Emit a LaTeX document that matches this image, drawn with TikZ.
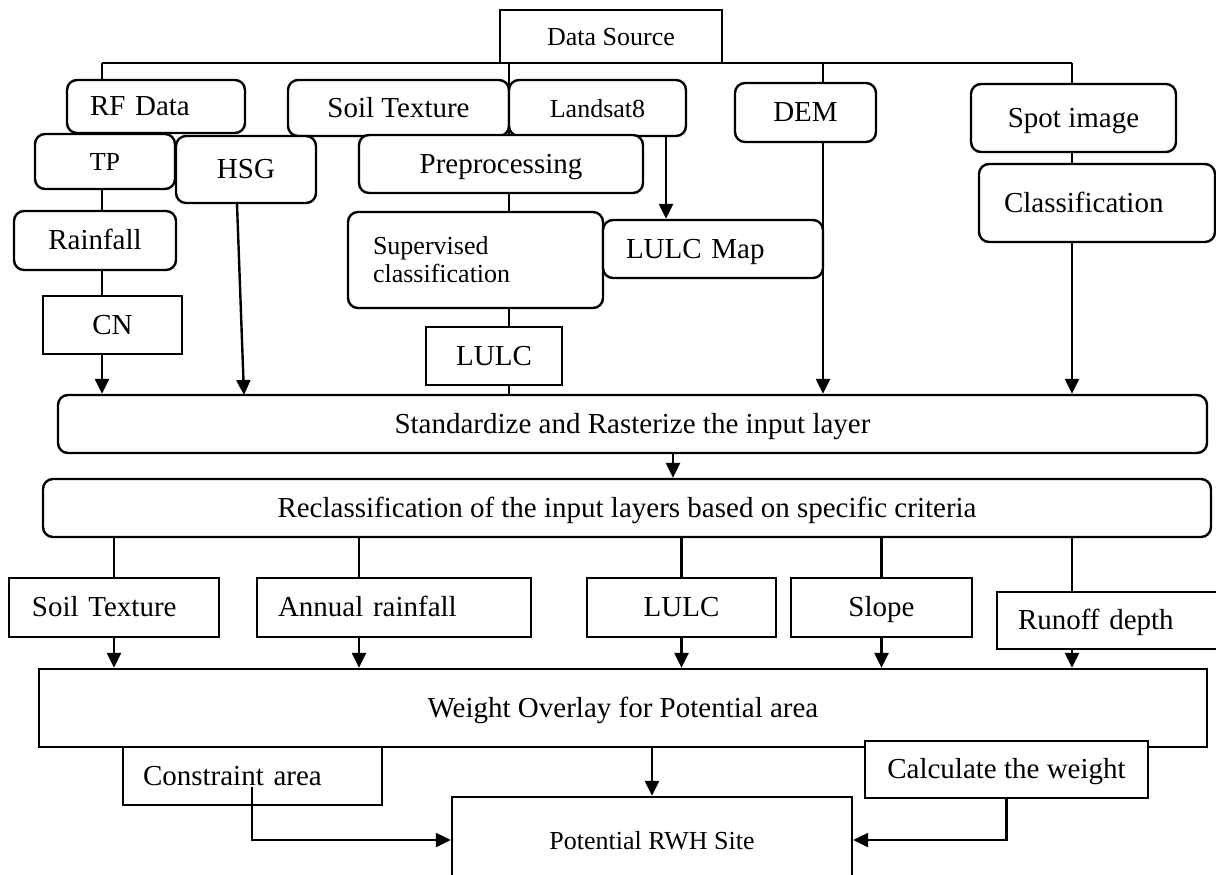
\documentclass[tikz,border=0pt]{standalone}
\usepackage{fontspec}
\setmainfont{Liberation Serif}
\usetikzlibrary{arrows.meta}

\tikzset{
  sqbox/.style={draw, fill=white, line width=1.2pt, inner sep=0pt, text height=0.94em, text depth=0pt,
    font=\fontsize{14.5}{17}\selectfont},
  rbox/.style={sqbox, rounded corners=5pt},
  smalltext/.style={font=\fontsize{13}{14}\selectfont},
  padl/.style={align=left, inner xsep=#1},
}

\begin{document}
\begin{tikzpicture}[x=0.5pt, y=-0.5pt, line width=1.2pt, >={Triangle[width=7pt,length=7.5pt]}]
        \useasboundingbox (0,0) rectangle (1216,874);
        \clip (0,0) rectangle (1216,874);

        \node[sqbox, smalltext, minimum width=111pt, minimum height=26.5pt] (src) at (611,36.5) {Data Source};
        \node[rbox, text width=66pt, padl=11.5pt, minimum height=26.5pt] (rf) at (156,106.5) {RF Data};
        \node[rbox, minimum width=110.5pt, minimum height=28pt] (soilT) at (398.5,108) {Soil Texture};
        \node[rbox, smalltext, minimum width=88.5pt, minimum height=28pt] (lsat) at (597.5,108) {Landsat8};
        \node[rbox, smalltext, minimum width=70pt, minimum height=27.5pt] (tp) at (105,161.5) {TP};
        \node[rbox, minimum width=70pt, minimum height=33.5pt] (hsg) at (246,169.5) {HSG};
        \node[rbox, minimum width=142pt, minimum height=29pt] (pre) at (501,164) {Preprocessing};
        \node[rbox, minimum width=81pt, minimum height=29.5pt] (rain) at (95,240.5) {Rainfall};
        \node[sqbox, minimum width=69.5pt, minimum height=29pt] (cn) at (112.5,325) {CN};
        \node[rbox, smalltext, text width=102.5pt, padl=12.5pt, minimum height=48pt, text height={}, text depth={}] (sup) at (475.5,260) {Supervised\\classification};
        \node[sqbox, minimum width=68pt, minimum height=29pt] (lulcA) at (494,356) {LULC};
        \node[rbox, text width=87pt, padl=11.5pt, minimum height=29pt] (lmap) at (713,249) {LULC Map};
        \node[rbox, minimum width=70.5pt, minimum height=29.5pt] (dem) at (805.5,112.5) {DEM};
        \node[rbox, minimum width=102.5pt, minimum height=34pt] (spot) at (1073.5,118) {Spot image};
        \node[rbox, text width=93pt, padl=12.5pt, minimum height=39pt] (cls) at (1097,203) {Classification};

        \node[rbox, minimum width=574.5pt, minimum height=29pt] (std) at (632.5,424) {Standardize and Rasterize the input layer};
        \node[rbox, minimum width=584pt, minimum height=29pt] (rcl) at (627,508) {Reclassification of the input layers based on specific criteria};

        \node[sqbox, text width=82pt, padl=11.5pt, minimum height=29.5pt] (soilB) at (114,607.5) {Soil Texture};
        \node[sqbox, text width=116pt, padl=10.5pt, minimum height=29.5pt] (annual) at (394,607.5) {Annual rainfall};
        \node[sqbox, minimum width=94.5pt, minimum height=29.5pt] (lulcB) at (681.5,607.5) {LULC};
        \node[sqbox, minimum width=90.5pt, minimum height=29.5pt] (slope) at (881.5,607.5) {Slope};
        \node[sqbox, text width=91.5pt, padl=10.5pt, minimum height=28.5pt] (runoff) at (1109.5,620.5) {Runoff depth};

        \node[sqbox, minimum width=584pt, minimum height=39pt] (wo) at (623,708) {Weight Overlay for Potential area};
        \node[sqbox, text width=109.5pt, padl=10pt, minimum height=29pt] (con) at (252.5,776) {Constraint area};
        \node[sqbox, minimum width=141.5pt, minimum height=28.5pt] (calc) at (1006.5,769.5) {Calculate the weight};
        \node[sqbox, smalltext, minimum width=200pt, minimum height=43pt] (pot) at (652,840) {Potential RWH Site};

        \coordinate (busL) at (102,63);
        \coordinate (busP) at (509,63);
        \coordinate (busD) at (823,63);
        \coordinate (busR) at (1072,63);
        \coordinate (hsgEnd) at (244,395);
        \coordinate (lsArr) at (666,136);
        \coordinate (srArr) at (673,453);
        \coordinate (anX) at (359,537);
        \coordinate (conA) at (252,787);

        \draw (busL) -- (busR);
        \draw (busL) -- (busL |- rf.north);
        \draw (busP) -- (busP |- pre.north);
        \draw (busD) -- (busD |- dem.north);
        \draw (busR) -- (busR |- spot.north);

        \draw (tp.south -| busL) -- (rain.north -| busL);
        \draw (rain.south -| busL) -- (cn.north -| busL);
        \draw[->] (cn.south -| busL) -- (std.north -| busL);
        \draw[->] ([xshift=-4.5pt]hsg.south) -- (hsgEnd);
        \draw (pre.south -| busP) -- (sup.north -| busP);
        \draw (sup.south -| busP) -- (lulcA.north -| busP);
        \draw (lulcA.south -| busP) -- (std.north -| busP);
        \draw[->] (lsArr) -- (lsArr |- lmap.north);
        \draw[->] (dem.south -| busD) -- (std.north -| busD);
        \draw (spot.south -| busR) -- (cls.north -| busR);
        \draw[->] (cls.south -| busR) -- (std.north -| busR);
        \draw[->] (srArr) -- (srArr |- rcl.north);

        \draw (rcl.south -| soilB.north) -- (soilB.north);
        \draw (anX) -- (anX |- annual.north);
        \draw (rcl.south -| lulcB.north) -- (lulcB.north);
        \draw (rcl.south -| slope.north) -- (slope.north);
        \draw (rcl.south -| busR) -- (runoff.north -| busR);

        \draw[->] (soilB.south) -- (soilB.south |- wo.north);
        \draw[->] (annual.south -| anX) -- (wo.north -| anX);
        \draw[->] (lulcB.south) -- (lulcB.south |- wo.north);
        \draw[->] (slope.south) -- (slope.south |- wo.north);
        \draw[->] (runoff.south -| busR) -- (wo.north -| busR);

        \draw[->] (wo.south -| pot.north) -- (pot.north);
        \draw[->] (conA) |- (pot.west);
        \draw[->] (calc.south) |- (pot.east);
\end{tikzpicture}
\end{document}
